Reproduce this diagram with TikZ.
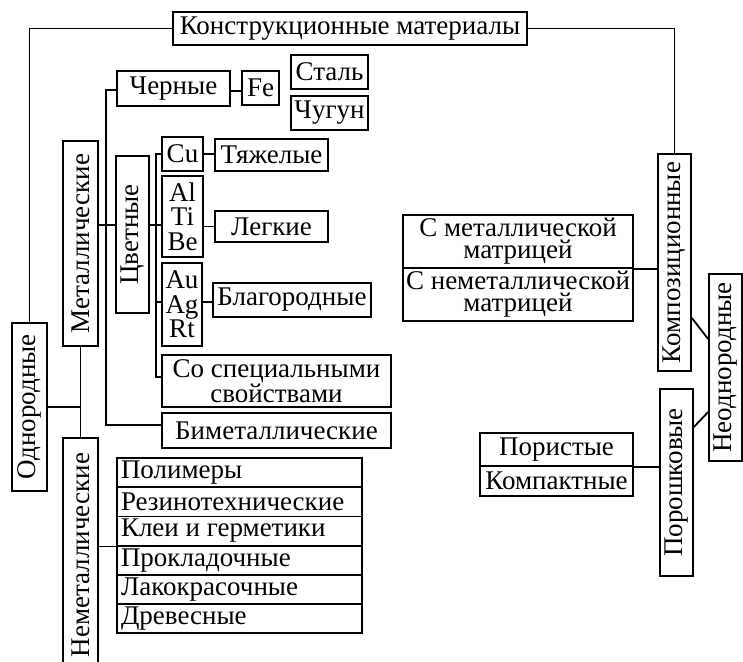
\documentclass[tikz,border=0pt]{standalone}
\usepackage{fontspec}
\setmainfont{Liberation Serif}
\begin{document}
\begin{tikzpicture}[x=1pt,y=-1pt,
  bx/.style={draw, line width=1.8pt, inner sep=0pt, font=\fontsize{27}{22}\selectfont, align=center},
  rowbx/.style={draw, line width=1.8pt, inner sep=0pt, font=\fontsize{27}{22}\selectfont, minimum width=245pt, minimum height=29.2pt},
  ln/.style={line width=1.8pt}]
\useasboundingbox (0,0) rectangle (743,661);
\clip (0,0) rectangle (743,661);
% top
\node[bx, minimum width=354pt, minimum height=33pt] (top) at (350,28.5) {Конструкционные материалы};
% left branch
\node[bx, minimum width=35pt, minimum height=168pt] (odn) at (29.5,407) {\rotatebox{90}{Однородные}};
\node[bx, minimum width=35pt, minimum height=205pt] (met) at (80.5,243.5) {\rotatebox{90}{Металлические}};
\node[bx, minimum width=35pt, minimum height=234pt] (nemet) at (80.5,555) {\rotatebox{90}{Неметаллические}};
\node[bx, minimum width=113pt, minimum height=35pt] (chern) at (173.5,88.5) {Черные};
\node[bx, minimum width=37pt, minimum height=34pt] (fe) at (260.5,88) {Fe};
\node[bx, minimum width=77pt, minimum height=34pt] (stal) at (329.5,72) {Сталь};
\node[bx, minimum width=77pt, minimum height=34pt] (chug) at (329.5,113) {Чугун};
\node[bx, minimum width=33pt, minimum height=157pt] (cvet) at (132.5,234.5) {\rotatebox{90}{Цветные}};
\node[bx, minimum width=41pt, minimum height=34pt] (cu) at (182.5,154) {Cu};
\node[bx, minimum width=113pt, minimum height=32pt] (tyazh) at (271.5,155) {Тяжелые};
\node[bx, minimum width=41pt, minimum height=81pt, font=\fontsize{27}{24.5}\selectfont] (alti) at (182.5,216.5) {Al\\Ti\\Be};
\node[bx, minimum width=113pt, minimum height=31pt] (legk) at (271.5,226.5) {Легкие};
\node[bx, minimum width=40pt, minimum height=83pt, font=\fontsize{27}{24.5}\selectfont] (auag) at (182,304.5) {Au\\Ag\\Rt};
\node[bx, minimum width=158pt, minimum height=34pt] (blag) at (292,300) {Благородные};
\node[bx, minimum width=229pt, minimum height=52pt] (spec) at (276.5,381) {Со специальными\\свойствами};
\node[bx, minimum width=229pt, minimum height=35pt] (bimet) at (276.5,430.5) {Биметаллические};
% non-metallic list
\node[rowbx] (r1) at (239.5,472.6) {\makebox[237pt][l]{Полимеры}};
\node[rowbx] (r2) at (239.5,501.8) {\makebox[237pt][l]{Резинотехнические}};
\node[rowbx] (r3) at (239.5,531.0) {\makebox[237pt][l]{Клеи и герметики}};
\node[rowbx] (r4) at (239.5,560.2) {\makebox[237pt][l]{Прокладочные}};
\node[rowbx] (r5) at (239.5,589.4) {\makebox[237pt][l]{Лакокрасочные}};
\node[rowbx] (r6) at (239.5,618.6) {\makebox[237pt][l]{Древесные}};
% right branch
\node[bx, minimum width=33pt, minimum height=217pt] (kompoz) at (674.5,262.5) {\rotatebox{90}{Композиционные}};
\node[bx, minimum width=33pt, minimum height=187pt] (neodn) at (725.5,367.5) {\rotatebox{90}{Неоднородные}};
\node[bx, minimum width=230pt, minimum height=53pt] (metmat) at (518,241.5) {С металлической\\матрицей};
\node[bx, minimum width=230pt, minimum height=53pt] (nemetmat) at (518,294.5) {С неметаллической\\матрицей};
\node[bx, minimum width=33pt, minimum height=187pt] (poroshk) at (676.5,482.5) {\rotatebox{90}{Порошковые}};
\node[bx, minimum width=153pt, minimum height=33pt] (porist) at (556.5,449.5) {Пористые};
\node[bx, minimum width=153pt, minimum height=30pt] (kompakt) at (556.5,481) {Компактные};
% bus coordinates
\coordinate (hM) at (106,225);
\coordinate (bTop) at (106,90);
\coordinate (bBot) at (106,425);
\coordinate (cTop) at (156,154);
\coordinate (cBot) at (156,377);
% connectors
\draw[ln] (top.west) -| (odn.north);
\draw[ln] (top.east) -| (kompoz.north);
\draw[ln] (odn.east) -- (met.south |- odn.east);
\draw[ln] (met.south) -- (nemet.north);
\draw[ln] (met.east |- hM) -- (cvet.west |- hM);
\draw[ln] (chern.west |- bTop) -- (bTop) -- (bBot) -- (bimet.west |- bBot);
\draw[ln] (chern.east |- 0,91) -- (fe.west |- 0,91);
\draw[ln] (cu.west) -- (cTop) -- (cBot) -- (spec.west |- cBot);
\draw[ln] (cvet.east |- hM) -- (156,225) -- (alti.west |- hM);
\draw[ln] (auag.west |- 0,302) -- (156,302);
\draw[ln] (cu.east) -- (tyazh.west |- cu.east);
\draw[ln] (alti.east |- legk.west) -- (legk.west);
\draw[ln] (auag.east |- 0,302) -- (blag.west |- 0,302);
\draw[ln] (nemet.east |- r3.south) -- (r3.south west);
\draw[ln] (metmat.south east) -- (kompoz.west |- metmat.south east);
\draw[ln] (porist.south east) -- (poroshk.west |- porist.south east);
\draw[ln] (kompoz.east |- 0,318) -- (neodn.west |- 0,339);
\draw[ln] (poroshk.east |- 0,427) -- (neodn.west |- 0,412);
\end{tikzpicture}
\end{document}
